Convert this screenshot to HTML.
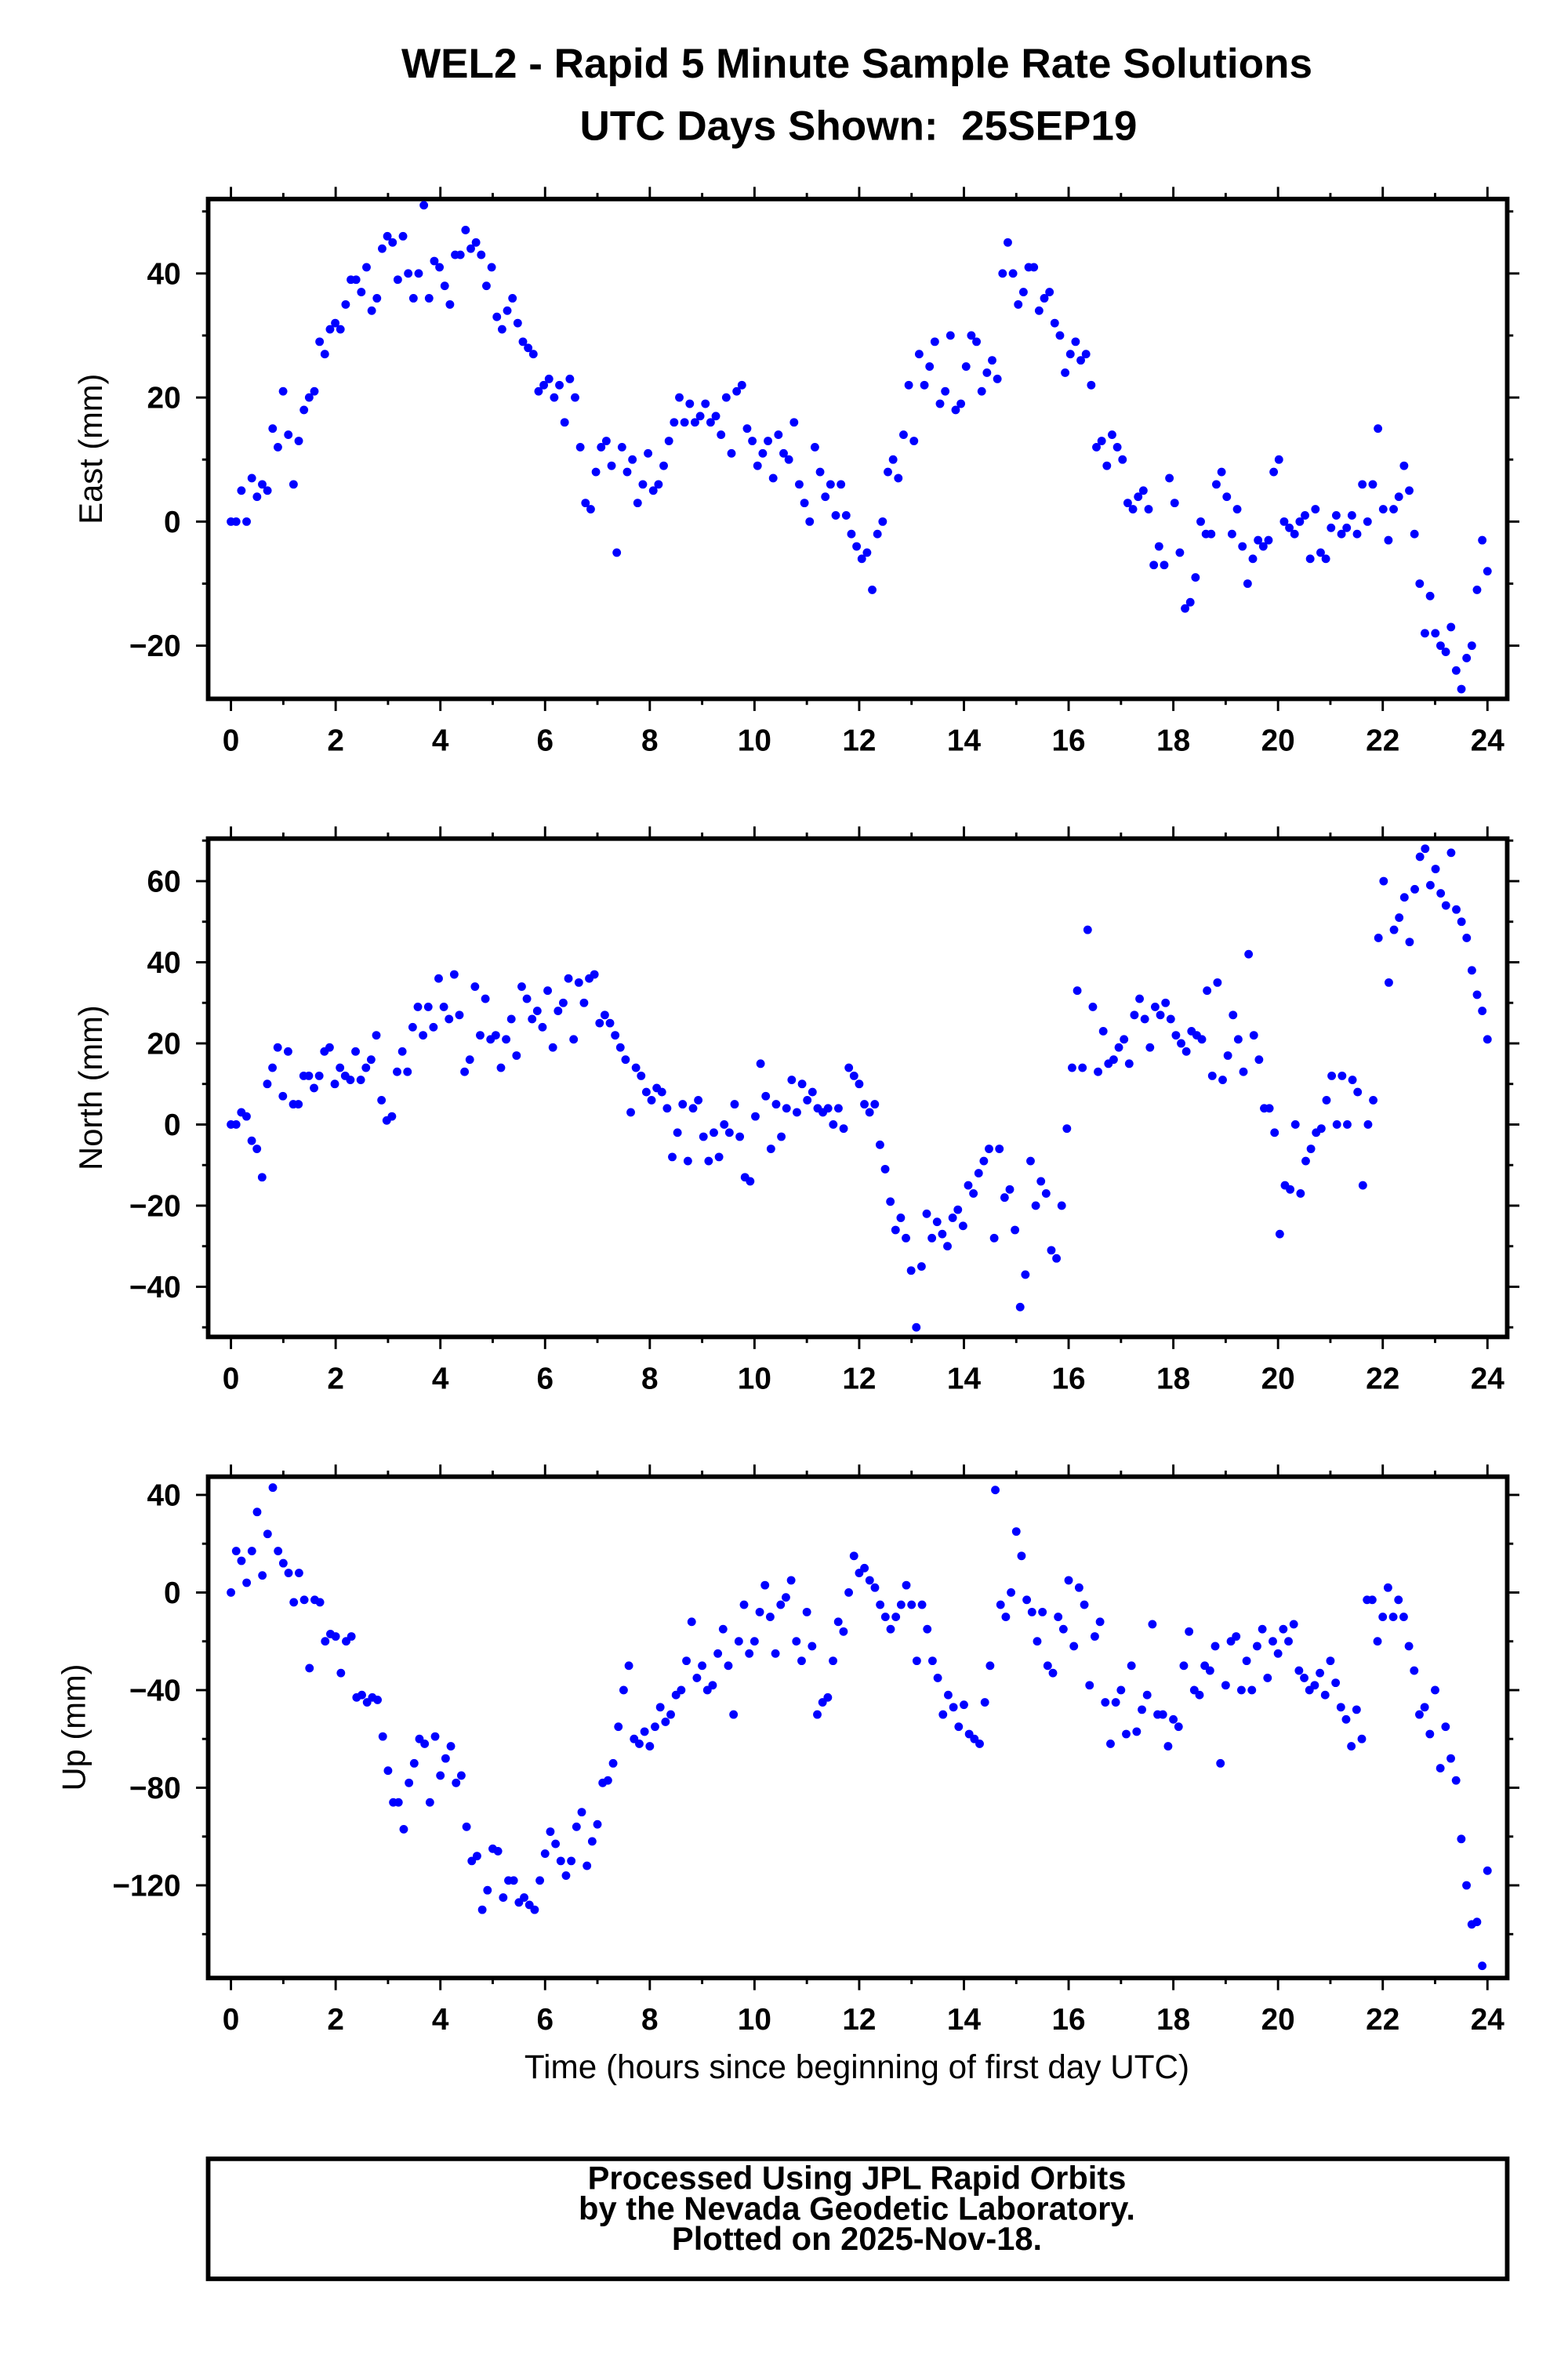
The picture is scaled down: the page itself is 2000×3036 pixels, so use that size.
<!DOCTYPE html>
<html><head><meta charset="utf-8"><style>
html,body{margin:0;padding:0;background:#fff}
svg{display:block}
text{font-family:"Liberation Sans",Arial,sans-serif;fill:#000}
</style></head><body>
<svg id="chart" width="2000" height="3036" viewBox="0 0 1032 1566.6" xmlns="http://www.w3.org/2000/svg">
<text x="564" y="51" font-size="27.4" font-weight="bold" text-anchor="middle">WEL2 - Rapid 5 Minute Sample Rate Solutions</text>
<text x="565" y="92" font-size="27.4" font-weight="bold" text-anchor="middle">UTC Days Shown:&#160; 25SEP19</text>
<g id="plots"></g>
<text x="564" y="1368" font-size="21.8" text-anchor="middle">Time (hours since beginning of first day UTC)</text>
<rect x="137" y="1421" width="855" height="79" fill="none" stroke="#000" stroke-width="3"/>
<text x="564" y="1441" font-size="21.5" font-weight="bold" text-anchor="middle">Processed Using JPL Rapid Orbits</text>
<text x="564" y="1461" font-size="21.5" font-weight="bold" text-anchor="middle">by the Nevada Geodetic Laboratory.</text>
<text x="564" y="1481" font-size="21.5" font-weight="bold" text-anchor="middle">Plotted on 2025-Nov-18.</text>
</svg>
<script>
const xTicks = [0,2,4,6,8,10,12,14,16,18,20,22,24];
const eastTicks = [-20,0,20,40];
const northTicks = [-40,-20,0,20,40,60];
const upTicks = [-120,-80,-40,0,40];
const eastValues = [0,0,5,0,7,4,6,5,15,12,21,14,6,13,18,20,21,29,27,31,32,31,35,39,39,37,41,34,36,44,46,45,39,46,40,36,40,51,36,42,41,38,35,43,43,47,44,45,43,38,41,33,31,34,36,32,29,28,27,21,22,23,20,22,16,23,20,12,3,2,8,12,13,9,-5,12,8,10,3,6,11,5,6,9,13,16,20,16,19,16,17,19,16,17,14,20,11,21,22,15,13,9,11,13,7,14,11,10,16,6,3,0,12,8,4,6,1,6,1,-2,-4,-6,-5,-11,-2,0,8,10,7,14,22,13,27,22,25,29,19,21,30,18,19,25,30,29,21,24,26,23,40,45,40,35,37,41,41,34,36,37,32,30,24,27,29,26,27,22,12,13,9,14,12,10,3,2,4,5,2,-7,-4,-7,7,3,-5,-14,-13,-9,0,-2,-2,6,8,4,-2,2,-4,-10,-6,-3,-4,-3,8,10,0,-1,-2,0,1,-6,2,-5,-6,-1,1,-2,-1,1,-2,6,0,6,15,2,-3,2,4,9,5,-2,-10,-18,-12,-18,-20,-21,-17,-24,-27,-22,-20,-11,-3,-8];
const northValues = [0,0,3,2,-4,-6,-13,10,14,19,7,18,5,5,12,12,9,12,18,19,10,14,12,11,18,11,14,16,22,6,1,2,13,18,13,24,29,22,29,24,36,29,26,37,27,13,16,34,22,31,21,22,14,21,26,17,34,31,26,28,24,33,19,28,30,36,21,35,30,36,37,25,27,25,22,19,16,3,14,12,8,6,9,8,4,-8,-2,5,-9,4,6,-3,-9,-2,-8,0,-2,5,-3,-13,-14,2,15,7,-6,5,-3,4,11,3,10,6,8,4,3,4,0,4,-1,14,12,10,5,3,5,-5,-11,-19,-26,-23,-28,-36,-50,-35,-22,-28,-24,-27,-30,-23,-21,-25,-15,-17,-12,-9,-6,-28,-6,-18,-16,-26,-45,-37,-9,-20,-14,-17,-31,-33,-20,-1,14,33,14,48,29,13,23,15,16,19,21,15,27,31,26,19,29,27,30,26,22,20,18,23,22,21,33,12,35,11,17,27,21,13,42,22,16,4,4,-2,-27,-15,-16,0,-17,-9,-6,-2,-1,6,12,0,12,0,11,8,-15,0,6,46,60,35,48,51,56,45,58,66,68,59,63,57,54,67,53,50,46,38,32,28,21];
const upValues = [0,17,13,4,17,33,7,24,43,17,12,8,-4,8,-3,-31,-3,-4,-20,-17,-18,-33,-20,-18,-43,-42,-45,-43,-44,-59,-73,-86,-86,-97,-78,-70,-60,-62,-86,-59,-75,-68,-63,-78,-75,-96,-110,-108,-130,-122,-105,-106,-125,-118,-118,-127,-125,-128,-130,-118,-107,-98,-103,-110,-116,-110,-96,-90,-112,-102,-95,-78,-77,-70,-55,-40,-30,-60,-62,-57,-63,-55,-47,-53,-50,-42,-40,-28,-12,-35,-30,-40,-38,-25,-15,-30,-50,-20,-5,-25,-20,-8,3,-10,-25,-5,-2,5,-20,-28,-8,-22,-50,-45,-43,-28,-12,-16,0,15,8,10,5,2,-5,-10,-15,-10,-5,3,-5,-28,-5,-15,-28,-35,-50,-42,-47,-55,-46,-58,-60,-62,-45,-30,42,-5,-10,0,25,15,-3,-8,-20,-8,-30,-33,-10,-15,5,-22,2,-5,-38,-18,-12,-45,-62,-45,-40,-58,-30,-57,-48,-42,-13,-50,-50,-63,-52,-55,-30,-16,-40,-42,-30,-32,-22,-70,-38,-20,-18,-40,-28,-40,-22,-15,-35,-20,-25,-15,-20,-13,-32,-35,-40,-38,-33,-42,-28,-37,-47,-52,-63,-48,-60,-3,-3,-20,-10,2,-10,-3,-10,-22,-32,-50,-47,-58,-40,-72,-55,-68,-77,-101,-120,-136,-135,-153,-114];

const NS='http://www.w3.org/2000/svg';
const plots=document.getElementById('plots');
function mk(tag,attrs,parent){const e=document.createElementNS(NS,tag);for(const k in attrs)e.setAttribute(k,attrs[k]);parent.appendChild(e);return e;}
const X0=137,X1=992;
function xScale(h){return 152+h*(979-152)/24;}
const panels=[
 {name:'east',label:'East (mm)',vals:eastValues,ticks:eastTicks,top:131,bot:460,v1:40,p1:180,v2:-20,p2:425,minor:10},
 {name:'north',label:'North (mm)',vals:northValues,ticks:northTicks,top:552,bot:880,v1:60,p1:580,v2:-40,p2:847,minor:10},
 {name:'up',label:'Up (mm)',vals:upValues,ticks:upTicks,top:972,bot:1302,v1:40,p1:984,v2:-120,p2:1241,minor:20}
];
panels.forEach(p=>{
 const g=mk('g',{},plots);
 
 
 const yScale=v=>p.p1+(v-p.v1)*(p.p2-p.p1)/(p.v2-p.v1);
 const frame=mk('rect',{x:X0,y:p.top,width:X1-X0,height:p.bot-p.top,fill:'none',stroke:'#000','stroke-width':3},g);
 
 
 for(let h=0;h<=24;h++){
  const x=xScale(h),L=(h%2===0)?8:4;
  mk('line',{x1:x,x2:x,y1:p.bot,y2:p.bot+L,stroke:'#000','stroke-width':1.5},g);
  mk('line',{x1:x,x2:x,y1:p.top,y2:p.top-L,stroke:'#000','stroke-width':1.5},g);
 }
 xTicks.forEach(h=>{
  const t=mk('text',{x:xScale(h),y:p.bot+34,'font-size':20,'font-weight':'bold','text-anchor':'middle'},g);
  t.textContent=String(h);
  
  
 });
 const vmin=p.v1+(p.bot-p.p1)*(p.v2-p.v1)/(p.p2-p.p1), vmax=p.v1+(p.top-p.p1)*(p.v2-p.v1)/(p.p2-p.p1);
 for(let v=Math.ceil(vmin/p.minor)*p.minor; v<=vmax; v+=p.minor){
  const y=yScale(v),major=p.ticks.includes(v),L=major?8:4;
  mk('line',{x1:X0,x2:X0-L,y1:y,y2:y,stroke:'#000','stroke-width':1.5},g);
  mk('line',{x1:X1,x2:X1+L,y1:y,y2:y,stroke:'#000','stroke-width':1.5},g);
 }
 p.ticks.forEach(v=>{
  const t=mk('text',{x:X0-18,y:yScale(v)+7,'font-size':20,'font-weight':'bold','text-anchor':'end'},g);
  t.textContent=(v<0?'\u2212'+(-v):String(v));
  
  
 });
 const cy=(p.top+p.bot)/2;
 const yl=mk('text',{x:0,y:0,'font-size':21.5,'text-anchor':'middle',transform:`translate(${p.name==='up'?56:67},${cy}) rotate(-90)`},g);
 yl.textContent=p.label;
 
 
 const n=p.vals.length;
 p.vals.forEach((v,i)=>{
  const h=i*24/(n-1);
  const c=mk('circle',{cx:xScale(h),cy:yScale(v),r:2.8,fill:'#0000ff'},g);
  
  
 });
});
</script>
</body></html>
